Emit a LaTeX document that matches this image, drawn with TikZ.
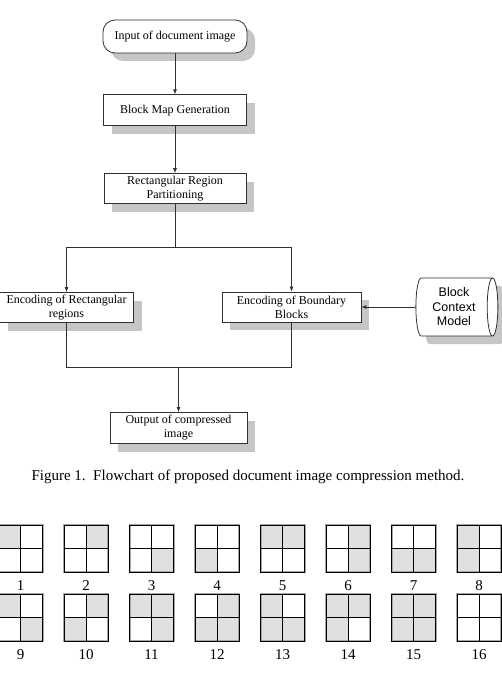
\documentclass[tikz,border=0pt]{standalone}
\usepackage{fontspec}
\setmainfont{Liberation Serif}
\newfontfamily\sansfont{Liberation Sans}
\usepackage{xcolor}
\usetikzlibrary{arrows.meta,positioning,shapes.geometric,shadows}
\definecolor{linegray}{HTML}{303030}
\definecolor{shadegray}{HTML}{C6C6C6}
\definecolor{cellgray}{HTML}{E0E0E0}

\begin{document}
\begin{tikzpicture}[x=1pt,y=-1pt,>={Latex[length=5pt,width=4pt]}]
\tikzstyle{boxshadow}=[drop shadow={shadow xshift=8pt,shadow yshift=-8pt,fill=shadegray,opacity=1}]
\tikzstyle{process}=[rectangle,draw=linegray,line width=0.8pt,fill=white,boxshadow,align=center,inner sep=1pt,font=\fontsize{12}{14}\selectfont]
\tikzstyle{terminal}=[process,rounded corners=12pt]
\tikzstyle{store}=[cylinder,draw=linegray,line width=0.8pt,fill=white,boxshadow,shape aspect=0.28,minimum width=58pt,minimum height=82pt,inner sep=0pt,align=center,font=\sansfont\fontsize{12.5}{14.5}\selectfont]
\tikzstyle{flow}=[draw=linegray,line width=0.8pt]
\tikzstyle{cellline}=[draw=black,line width=1pt]
\tikzstyle{numlabel}=[inner sep=0pt,font=\fontsize{15}{18}\selectfont]
\useasboundingbox (0,0) rectangle (502,679);

% flowchart
\node[terminal,minimum width=144pt,minimum height=33pt] (input) at (175,36.5) {Input of document image};
\node[process,minimum width=143pt,minimum height=31pt,below=41pt of input] (blockmap) {Block Map Generation};
\node[process,minimum width=142pt,minimum height=30pt,below=47pt of blockmap] (partition) {Rectangular Region\\Partitioning};
\coordinate (split) at (175,247);
\node[process,minimum width=134pt,minimum height=30pt] (encrect) at (66.5,307.5) {Encoding of Rectangular\\regions};
\node[process,minimum width=139pt,minimum height=30pt] (boundary) at (291.5,307) {Encoding of Boundary\\Blocks};
\node[store] (ctx) at (454,307) {Block\\Context\\Model};
\coordinate (merge) at (178.5,367);
\node[process,minimum width=137pt,minimum height=31pt] (output) at (178.5,428) {Output of compressed\\image};

\draw[flow,->] (input) -- (blockmap);
\draw[flow,->] (blockmap) -- (partition);
\draw[flow] (partition) -- (split);
\draw[flow,->] (split) -| (encrect);
\draw[flow,->] (split) -| (boundary);
\draw[flow,->] (ctx) -- (boundary);
\draw[flow] (encrect) |- (merge);
\draw[flow] (boundary) |- (merge);
\draw[flow,->] (merge) -- (output);

\node[font=\fontsize{15}{18}\selectfont] (caption) at (248,477) {Figure 1.\ \ Flowchart of proposed document image compression method.};

% block patterns: number / top left / top right / bottom left / bottom right
\foreach \n/\tl/\tr/\bl/\br in {1/1/0/0/0,2/0/1/0/0,3/0/0/0/1,4/0/0/1/0,5/1/1/0/0,6/0/1/0/1,7/0/0/1/1,8/1/0/1/0,
  9/1/0/0/1,10/0/1/1/0,11/1/1/0/1,12/0/1/1/1,13/1/0/1/1,14/1/1/1/0,15/1/1/1/1,16/0/0/0/0}{
  \pgfmathtruncatemacro\col{mod(\n-1,8)}
  \pgfmathtruncatemacro\row{(\n-1)/8}
  \pgfmathsetmacro\bx{-1.5+65.5*\col}
  \pgfmathsetmacro\by{525+69*\row}
  \ifnum\tl=1 \fill[cellgray] (\bx,\by) rectangle ++(22,23.5); \fi
  \ifnum\tr=1 \fill[cellgray] (\bx+22,\by) rectangle ++(22,23.5); \fi
  \ifnum\bl=1 \fill[cellgray] (\bx,\by+23.5) rectangle ++(22,23.5); \fi
  \ifnum\br=1 \fill[cellgray] (\bx+22,\by+23.5) rectangle ++(22,23.5); \fi
  \draw[draw=gray!70,line width=2pt] (\bx,\by) rectangle ++(44,47);
  \draw[cellline] (\bx,\by) rectangle ++(44,47);
  \draw[cellline] (\bx+22,\by) -- ++(0,47) (\bx,\by+23.5) -- ++(44,0);
  \node[numlabel] (num\n) at (\bx+22,\by+61) {\n};
}
\end{tikzpicture}
\end{document}
